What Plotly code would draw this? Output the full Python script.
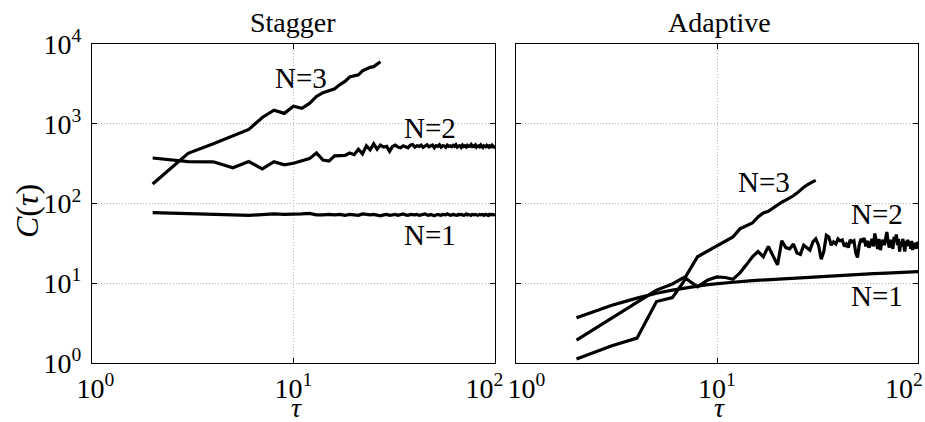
import numpy as np
import plotly.graph_objects as go
from plotly.subplots import make_subplots

tau = list(range(2, 101))

stagger_n1 = [77, 74, 72, 72, 71, 72, 74, 73, 73, 74,
              75, 72, 72, 73, 72, 73, 71, 73, 72, 71,
              74, 73, 72, 73, 72, 70, 72, 73, 71, 72,
              73, 71, 72, 74, 72, 71, 73, 72, 72, 73,
              71, 72, 73, 74, 72, 71, 73, 72, 70, 72,
              73, 72, 71, 73, 72, 72, 74, 73, 71, 72,
              73, 72, 72, 71, 73, 72, 73, 72, 71, 72,
              74, 72, 73, 72, 71, 73, 72, 72, 73, 72,
              71, 72, 73, 72, 72, 73, 71, 72, 73, 72,
              72, 71, 73, 72, 72, 73, 72, 72, 72]

stagger_n2 = [372, 335, 333, 280, 335, 272, 335, 305, 320, 340,
              365, 430, 350, 340, 395, 398, 400, 430, 410, 480,
              420, 530, 470, 560, 480, 540, 510, 520, 450, 520,
              540, 510, 500, 530, 520, 500, 540, 550, 510, 530,
              520, 540, 505, 530, 545, 515, 525, 540, 500, 530,
              520, 545, 510, 530, 525, 505, 540, 520, 530, 515,
              535, 520, 545, 510, 525, 530, 505, 540, 520, 530,
              510, 535, 520, 525, 545, 505, 530, 520, 540, 510,
              525, 530, 515, 540, 520, 505, 530, 525, 515, 535,
              520, 510, 530, 525, 500, 535, 520, 510, 525]

tau_stagger_n3 = list(range(2, 28))
stagger_n3 = [176, 426, 560, 700, 850, 1200, 1480, 1350, 1660, 1560,
              1800, 2200, 2450, 2600, 2750, 3100, 3400, 3850, 3950, 4100,
              4600, 4900, 5100, 5200, 5600, 6000]

tau_adaptive_n1 = [2, 3, 4, 5, 6, 7, 8, 9, 10, 12, 15, 20, 25, 30, 40, 50, 60, 70, 80, 90, 100]
adaptive_n1 = [3.7, 5.3, 6.5, 7.5, 8.2, 8.8, 9.2, 9.6, 9.9, 10.3, 10.8, 11.3, 11.7, 12.0,
               12.5, 12.9, 13.2, 13.4, 13.6, 13.8, 14.0]

adaptive_n2 = [1.12, 1.65, 2.05, 5.9, 6.6, 11.5, 9.0, 11.0, 12.0, 11.8,
               11.2, 13.5, 17.0, 21.5, 25.0, 21.5, 29.0, 22.0, 17.0, 34.0,
               28.0, 27.0, 31.0, 24.0, 23.0, 30.0, 28.0, 26.0, 33.0, 36.0,
               30.0, 20.0, 25.0, 40.0, 38.0, 30.0, 33.0, 31.0, 36.0, 34.0,
               35.0, 29.0, 31.0, 28.0, 35.0, 33.0, 34.0, 24.0, 21.0, 30.0,
               36.0, 33.0, 37.0, 29.0, 34.0, 28.0, 31.0, 36.0, 29.0, 42.0,
               33.0, 27.0, 36.0, 26.0, 32.0, 35.0, 30.0, 38.0, 44.0, 33.0,
               28.0, 35.0, 31.0, 27.0, 38.0, 33.0, 41.0, 30.0, 36.0, 25.0,
               33.0, 29.0, 36.0, 31.0, 25.0, 34.0, 29.0, 35.0, 30.0, 33.0,
               27.0, 34.0, 26.0, 32.0, 29.0, 31.0, 27.0, 33.0, 30.0]

tau_adaptive_n3 = list(range(2, 32))
adaptive_n3 = [1.94, 3.7, 5.9, 8.2, 9.8, 12.2, 21.5, 25.5, 29, 34,
               38, 48, 53, 57, 68, 76, 80, 88, 98, 104,
               110, 116, 125, 135, 148, 160, 170, 180, 188, 195]

panel_titles = ["Stagger", "Adaptive"]
curve_labels = ["N=1", "N=2", "N=3"]
x_tickvals = [1, 10, 100]
x_ticktext_left = ["&nbsp;10<sup>0</sup>", "10<sup>1</sup>", "10<sup>2</sup>&nbsp;&nbsp;&nbsp;"]
x_ticktext_right = ["&nbsp;&nbsp;&nbsp;10<sup>0</sup>", "10<sup>1</sup>", "10<sup>2</sup>&nbsp;&nbsp;&nbsp;&nbsp;"]
y_tickvals = [1, 10, 100, 1000, 10000]
y_ticktext = ["10<sup>0</sup>", "10<sup>1</sup>", "10<sup>2</sup>", "10<sup>3</sup>", "10<sup>4</sup>"]

FONT = "Liberation Serif"
FS = 28

fig = make_subplots(rows=1, cols=2, horizontal_spacing=0.0254)

line = dict(color="black", width=3.2)
fig.add_trace(go.Scatter(x=tau, y=stagger_n1, mode="lines", line=line), 1, 1)
fig.add_trace(go.Scatter(x=tau, y=stagger_n2, mode="lines", line=line), 1, 1)
fig.add_trace(go.Scatter(x=tau_stagger_n3, y=stagger_n3, mode="lines", line=line), 1, 1)
fig.add_trace(go.Scatter(x=tau_adaptive_n1, y=adaptive_n1, mode="lines", line=line), 1, 2)
fig.add_trace(go.Scatter(x=tau, y=adaptive_n2, mode="lines", line=line), 1, 2)
fig.add_trace(go.Scatter(x=tau_adaptive_n3, y=adaptive_n3, mode="lines", line=line), 1, 2)

axis_common = dict(type="log", showline=True, linecolor="black", linewidth=1.3, mirror="ticks",
                   ticks="inside", ticklen=5, tickwidth=1, tickcolor="black", automargin=False,
                   showgrid=True, gridcolor="#b5b5b5", griddash="1px,2px", gridwidth=1,
                   zeroline=False, tickfont=dict(family=FONT, size=FS, color="black"))

for c, ttxt in ((1, x_ticktext_left), (2, x_ticktext_right)):
    fig.update_xaxes(range=[0, 2], tickvals=x_tickvals, ticktext=ttxt, row=1, col=c,
                     ticklabelstandoff=0, ticklabeloverflow="allow", **axis_common)
    fig.update_yaxes(range=[0, 4], tickvals=y_tickvals, ticktext=y_ticktext, row=1, col=c,
                     showticklabels=(c == 1), ticklabelstandoff=4, **axis_common)

L, R, T, B = 92, 7, 44, 59
W, H = 925, 422
fig.update_xaxes(domain=[0, (495 - L) / (W - L - R)], row=1, col=1)
fig.update_xaxes(domain=[(516 - L) / (W - L - R), 1], row=1, col=2)

def px2paper_x(px):
    return (px - L) / (W - L - R)

def px2paper_y(py):
    return (H - B - py) / (H - T - B)

annos = []
tf = dict(family=FONT, size=FS, color="black")
lf = dict(family=FONT, size=29, color="black")
yf = dict(family=FONT, size=32, color="black")
# panel titles
annos.append(dict(text=panel_titles[0], x=px2paper_x(293), y=px2paper_y(22), xref="paper", yref="paper",
                  showarrow=False, font=tf, xanchor="center", yanchor="middle"))
annos.append(dict(text=panel_titles[1], x=px2paper_x(719), y=px2paper_y(22), xref="paper", yref="paper",
                  showarrow=False, font=tf, xanchor="center", yanchor="middle"))
# axis titles
annos.append(dict(text="<i>τ</i>", x=px2paper_x(296), y=px2paper_y(407), xref="paper", yref="paper",
                  showarrow=False, font=tf, xanchor="center", yanchor="middle"))
annos.append(dict(text="<i>τ</i>", x=px2paper_x(719), y=px2paper_y(407), xref="paper", yref="paper",
                  showarrow=False, font=tf, xanchor="center", yanchor="middle"))
annos.append(dict(text="<i>C</i>(<i>τ</i>)", x=px2paper_x(27), y=px2paper_y(211), xref="paper", yref="paper",
                  showarrow=False, font=yf, xanchor="center", yanchor="middle", textangle=-90))
# curve labels (log10 positions for log axes)
label_pos = [
    ("x", "y", curve_labels[2], 10.9, 3750),
    ("x", "y", curve_labels[1], 47.6, 885),
    ("x", "y", curve_labels[0], 47.6, 40.3),
    ("x2", "y2", curve_labels[2], 17.1, 186),
    ("x2", "y2", curve_labels[1], 62.5, 73.8),
    ("x2", "y2", curve_labels[0], 62.5, 6.92),
]
for xr, yr, t, xv, yv in label_pos:
    annos.append(dict(text=t, x=np.log10(xv), y=np.log10(yv), xref=xr, yref=yr, showarrow=False,
                      font=lf, xanchor="center", yanchor="middle"))

fig.update_layout(width=W, height=H, margin=dict(l=L, r=R, t=T, b=B, autoexpand=False),
                  paper_bgcolor="white", plot_bgcolor="white", showlegend=False,
                  font=dict(family=FONT, size=FS, color="black"),
                  annotations=annos)

fig.write_html("out.html")
